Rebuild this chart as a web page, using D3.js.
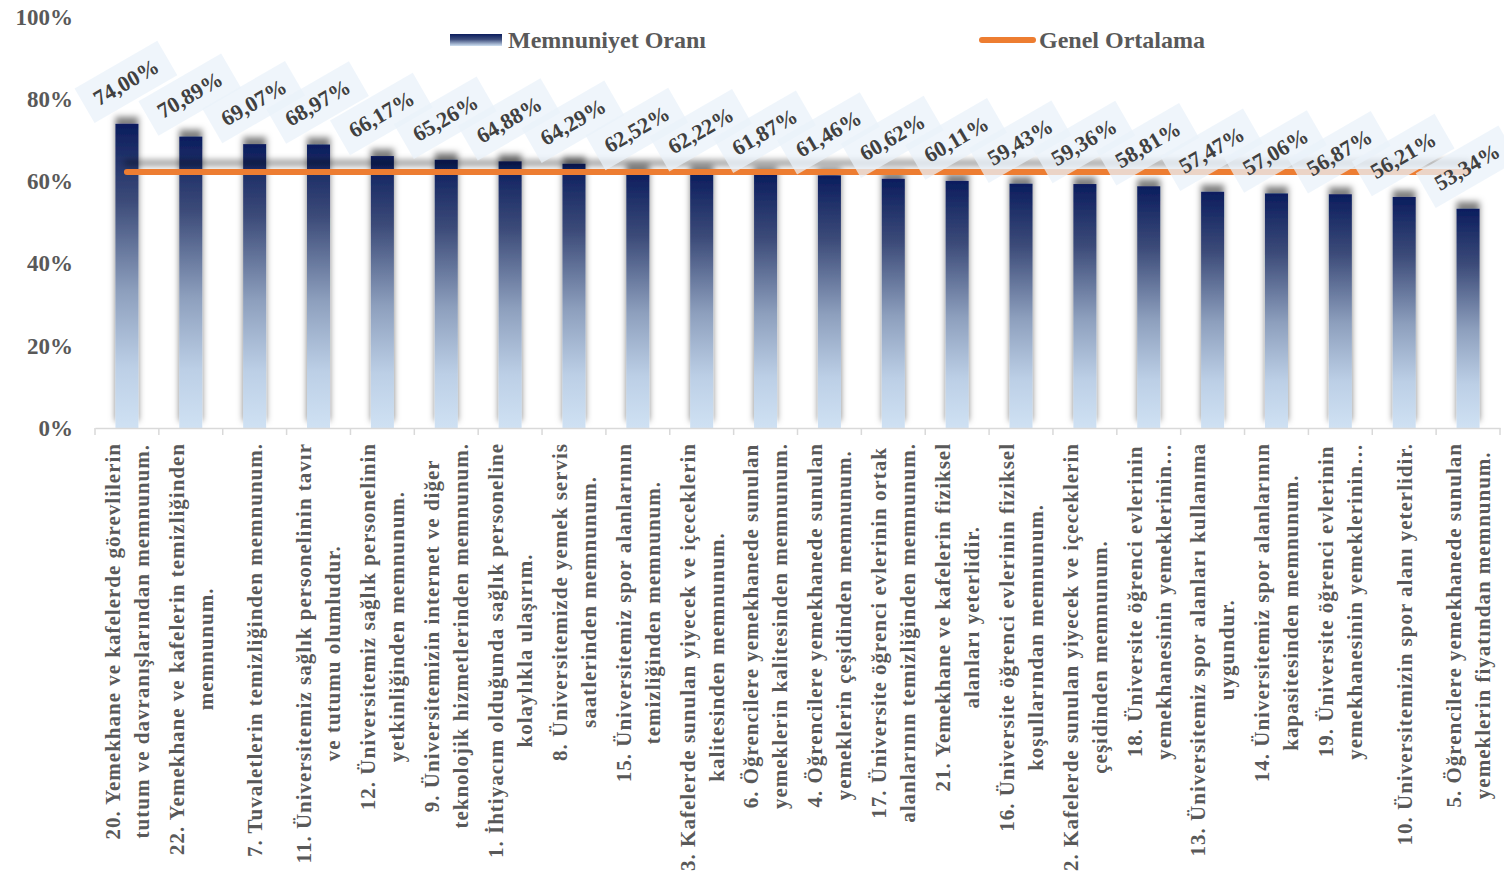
<!DOCTYPE html>
<html>
<head>
<meta charset="utf-8">
<script src="https://cdn.jsdelivr.net/npm/d3@7"></script>
<style>
  body { margin: 0; background: #fff; }
  svg text { font-family: "Liberation Serif", "Times New Roman", serif; font-weight: bold; }
</style>
</head>
<body>
<div id="chart"></div>
<script>
var categories = [
    ["20. Yemekhane ve kafelerde görevlilerin", "tutum ve davranışlarından memnunum."],
    ["22. Yemekhane ve kafelerin temizliğinden", "memnunum."],
    ["7. Tuvaletlerin temizliğinden memnunum."],
    ["11. Üniversitemiz sağlık personelinin tavır", "ve tutumu olumludur."],
    ["12. Üniversitemiz sağlık personelinin", "yetkinliğinden memnunum."],
    ["9. Üniversitemizin internet ve diğer", "teknolojik hizmetlerinden memnunum."],
    ["1. İhtiyacım olduğunda sağlık personeline", "kolaylıkla ulaşırım."],
    ["8. Üniversitemizde yemek servis", "saatlerinden memnunum."],
    ["15. Üniversitemiz spor alanlarının", "temizliğinden memnunum."],
    ["3. Kafelerde sunulan yiyecek ve içeceklerin", "kalitesinden memnunum."],
    ["6. Öğrencilere yemekhanede sunulan", "yemeklerin kalitesinden memnunum."],
    ["4. Öğrencilere yemekhanede sunulan", "yemeklerin çeşidinden memnunum."],
    ["17. Üniversite öğrenci evlerinin ortak", "alanlarının temizliğinden memnunum."],
    ["21. Yemekhane ve kafelerin fiziksel", "alanları yeterlidir."],
    ["16. Üniversite öğrenci evlerinin fiziksel", "koşullarından memnunum."],
    ["2. Kafelerde sunulan yiyecek ve içeceklerin", "çeşidinden memnunum."],
    ["18. Üniversite öğrenci evlerinin", "yemekhanesinin yemeklerinin…"],
    ["13. Üniversitemiz spor alanları kullanıma", "uygundur."],
    ["14. Üniversitemiz spor alanlarının", "kapasitesinden memnunum."],
    ["19. Üniversite öğrenci evlerinin", "yemekhanesinin yemeklerinin…"],
    ["10. Üniversitemizin spor alanı yeterlidir."],
    ["5. Öğrencilere yemekhanede sunulan", "yemeklerin fiyatından memnunum."]
];

var memnuniyet = [74.00, 70.89, 69.07, 68.97, 66.17, 65.26, 64.88, 64.29, 62.52, 62.22,
                  61.87, 61.46, 60.62, 60.11, 59.43, 59.36, 58.81, 57.47, 57.06, 56.87,
                  56.21, 53.34];

var genelOrtalama = [62.31];

var yTicks = [0, 20, 40, 60, 80, 100];

var seriesNames = ["Memnuniyet Oranı", "Genel Ortalama"];

var W = 1504, H = 885,
    margin = { top: 17, right: 4, bottom: 457, left: 95 },
    width = W - margin.left - margin.right,
    height = H - margin.top - margin.bottom;

var data = categories.map(function(c, i) {
    return { key: i, lines: c, value: memnuniyet[i] };
});

var svg = d3.select("#chart").append("svg")
    .attr("width", W)
    .attr("height", H);

var defs = svg.append("defs");

var grad = defs.append("linearGradient")
    .attr("id", "barGrad")
    .attr("x1", 0).attr("y1", 0).attr("x2", 0).attr("y2", 1);
grad.append("stop").attr("offset", "0%").attr("stop-color", "#0b1d5e");
grad.append("stop").attr("offset", "25%").attr("stop-color", "#3b4a78");
grad.append("stop").attr("offset", "55%").attr("stop-color", "#8d9fbd");
grad.append("stop").attr("offset", "80%").attr("stop-color", "#bccfe6");
grad.append("stop").attr("offset", "100%").attr("stop-color", "#cfe1f3");

var legGrad = defs.append("linearGradient")
    .attr("id", "legGrad")
    .attr("x1", 0).attr("y1", 0).attr("x2", 0).attr("y2", 1);
legGrad.append("stop").attr("offset", "0%").attr("stop-color", "#0b1d5e");
legGrad.append("stop").attr("offset", "45%").attr("stop-color", "#3d4d7c");
legGrad.append("stop").attr("offset", "100%").attr("stop-color", "#cfe1f3");

var shadow = defs.append("filter")
    .attr("id", "shadow")
    .attr("x", "-50%").attr("y", "-20%").attr("width", "200%").attr("height", "140%");
shadow.append("feDropShadow")
    .attr("dx", 0).attr("dy", -7)
    .attr("stdDeviation", 3)
    .attr("flood-color", "#000")
    .attr("flood-opacity", 0.5);

// horizontal line has a zero-height bbox, so use user space for the filter region
var lineShadow = defs.append("filter")
    .attr("id", "lineShadow")
    .attr("filterUnits", "userSpaceOnUse")
    .attr("x", 0).attr("y", 100).attr("width", W).attr("height", 120);
lineShadow.append("feDropShadow")
    .attr("dx", 0).attr("dy", -9)
    .attr("stdDeviation", 3)
    .attr("flood-color", "#000")
    .attr("flood-opacity", 0.4);

var g = svg.append("g")
    .attr("transform", "translate(" + margin.left + "," + margin.top + ")");

var x = d3.scaleBand()
    .domain(data.map(function(d) { return d.key; }))
    .range([0, width])
    .paddingInner(0.64)
    .paddingOuter(0.32);

var band = d3.scaleBand()
    .domain(data.map(function(d) { return d.key; }))
    .range([0, width]);

var y = d3.scaleLinear().domain([0, 100]).range([height, 0]);

// y axis labels
g.append("g")
    .call(d3.axisLeft(y).tickValues(yTicks).tickSize(0).tickPadding(22)
        .tickFormat(function(d) { return d + "%"; }))
    .call(function(a) {
        a.select(".domain").remove();
        a.selectAll("text")
            .attr("fill", "#595959")
            .style("font-size", "23px")
            .style("font-family", "'Liberation Serif', serif")
            .style("font-weight", "bold");
    });

// bars
g.append("g").selectAll("rect")
    .data(data)
    .enter().append("rect")
    .attr("x", function(d) { return x(d.key); })
    .attr("y", function(d) { return y(d.value); })
    .attr("width", x.bandwidth())
    .attr("height", function(d) { return height - y(d.value); })
    .attr("fill", "url(#barGrad)")
    .attr("filter", "url(#shadow)");

// x axis
var xAxis = g.append("g")
    .attr("transform", "translate(0," + height + ")")
    .call(d3.axisBottom(band).tickSize(0).tickFormat(""));
xAxis.select(".domain").attr("stroke", "#d9d9d9").attr("stroke-width", 1.5);
xAxis.selectAll(".tick").remove();
xAxis.selectAll(".sep")
    .data(d3.range(categories.length + 1))
    .enter().append("line")
    .attr("x1", function(i) { return i * band.bandwidth(); })
    .attr("x2", function(i) { return i * band.bandwidth(); })
    .attr("y1", 0).attr("y2", 7)
    .attr("stroke", "#d9d9d9").attr("stroke-width", 1.5);

// average line
var avgLine = d3.line()
    .x(function(d) { return x(d.key) + x.bandwidth() / 2; })
    .y(function() { return y(genelOrtalama[0]); });

g.append("path")
    .datum(data)
    .attr("d", avgLine)
    .attr("fill", "none")
    .attr("stroke", "#ed7d31")
    .attr("stroke-width", 6)
    .attr("stroke-linecap", "round")
    .attr("filter", "url(#lineShadow)");

// data labels
var labels = g.append("g").selectAll("g")
    .data(data)
    .enter().append("g")
    .attr("transform", function(d) {
        return "translate(" + (x(d.key) + x.bandwidth() / 2 - 1) + "," + (y(d.value) - 42) + ") rotate(-30)";
    });

labels.append("text")
    .attr("text-anchor", "middle")
    .attr("dy", "0.35em")
    .attr("fill", "#404040")
    .style("font-size", "22px")
    .text(function(d) { return d3.format(".2f")(d.value).replace(".", ",") + "%"; });

labels.each(function() {
    var t = d3.select(this).select("text");
    var w = t.node().getComputedTextLength() + 24;
    d3.select(this).insert("rect", "text")
        .attr("x", -w / 2).attr("y", -20)
        .attr("width", w).attr("height", 40)
        .attr("fill", "#e9f1fa")
        .attr("fill-opacity", 0.75);
});

// category labels, rotated
var lineGap = 29, topY = height + 15;
var cats = g.append("g").selectAll("g")
    .data(data)
    .enter().append("g");

cats.each(function(d) {
    var sel = d3.select(this);
    var n = d.lines.length;
    var cx = band(d.key) + band.bandwidth() / 2;
    var texts = sel.selectAll("text")
        .data(d.lines)
        .enter().append("text")
        .attr("text-anchor", "middle")
        .attr("dy", "0.35em")
        .attr("fill", "#595959")
        .style("font-size", "21px")
        .style("letter-spacing", "1px")
        .text(function(s) { return s; });
    var maxW = d3.max(texts.nodes(), function(nd) { return nd.getComputedTextLength(); });
    var cy = topY + maxW / 2;
    texts.attr("transform", function(s, j) {
        var lx = cx + (j - (n - 1) / 2) * lineGap;
        return "translate(" + lx + "," + cy + ") rotate(-90)";
    });
});

// legend
var legend = svg.append("g");
legend.append("rect")
    .attr("x", 450).attr("y", 34).attr("width", 52).attr("height", 12)
    .attr("fill", "url(#legGrad)");
legend.append("text")
    .attr("x", 508).attr("y", 48)
    .attr("fill", "#595959")
    .style("font-size", "24px")
    .text(seriesNames[0]);
legend.append("line")
    .attr("x1", 982).attr("x2", 1033).attr("y1", 40).attr("y2", 40)
    .attr("stroke", "#ed7d31").attr("stroke-width", 6)
    .attr("stroke-linecap", "round");
legend.append("text")
    .attr("x", 1039).attr("y", 48)
    .attr("fill", "#595959")
    .style("font-size", "24px")
    .text(seriesNames[1]);
</script>
</body>
</html>
